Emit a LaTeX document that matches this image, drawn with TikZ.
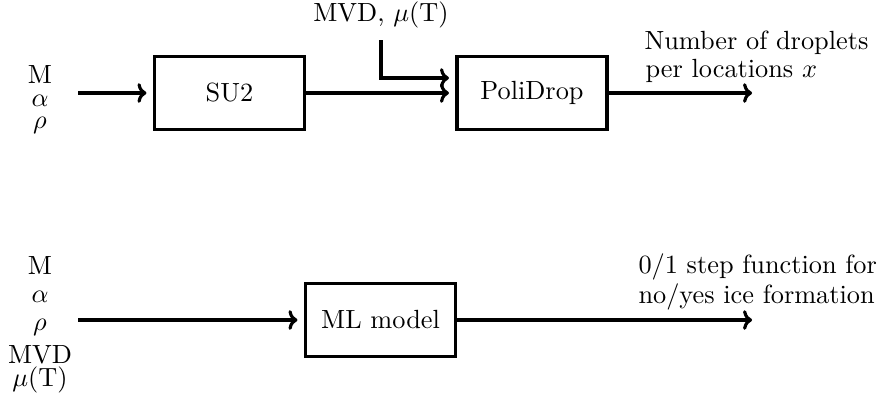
\documentclass[tikz,border=0pt]{standalone}
\usetikzlibrary{arrows.meta}
\begin{document}
\begin{tikzpicture}[x=0.3802pt,y=-0.3802pt,
  box/.style={draw,line width=1.2pt,minimum width=57pt,minimum height=28pt,inner sep=0pt},
  lbl/.style={anchor=base,inner sep=0pt},
  lblw/.style={anchor=base west,inner sep=0pt},
  arr/.style={line width=1.2pt,-{Computer Modern Rightarrow[length=3.4pt,width=7.5pt]}},
  inarr/.style={arr,shorten >=2.5pt}
]
\path[use as bounding box] (0,0) rectangle (881,403);

% top row
\node[anchor=north,inner sep=0pt,align=center] (tin_lbl) at (40,65)
  {M\\[-3.4pt]$\alpha$\\[-3.4pt]$\rho$};
\coordinate (tin) at (78,93);
\node[box] (su2) at (229.5,93) {SU2};
\node[box] (pd) at (532,93) {PoliDrop};
\node[lbl] (mvd) at (381,21) {MVD, $\mu$(T)};
\coordinate (mvdtop) at (381,40);
\coordinate (tout) at (752,93);
\node[lblw] (nd1) at (644,49) {Number of droplets};
\node[lblw] (nd2) at (645,77) {per locations $x$};

\draw[inarr] (tin) -- (su2);
\draw[inarr] (su2) -- (pd);
\draw[inarr] (mvdtop) |- ([yshift=5.7pt]pd.west);
\draw[arr] (pd) -- (tout);

% bottom row
\node[lbl] (bM) at (40,274) {M};
\node[lbl] (bA) at (40,302) {$\alpha$};
\node[lbl] (bR) at (40,330) {$\rho$};
\node[lbl] (bV) at (40,363) {MVD};
\node[lbl] (bT) at (40,386) {$\mu$(T)};
\coordinate (bin) at (78,320);
\node[box] (ml) at (380.5,320) {ML model};
\coordinate (bout) at (752,320);
\node[lblw] (sf1) at (638,273) {0/1 step function for};
\node[lblw] (sf2) at (638,303) {no/yes ice formation};

\draw[inarr] (bin) -- (ml);
\draw[arr] (ml) -- (bout);
\end{tikzpicture}
\end{document}
